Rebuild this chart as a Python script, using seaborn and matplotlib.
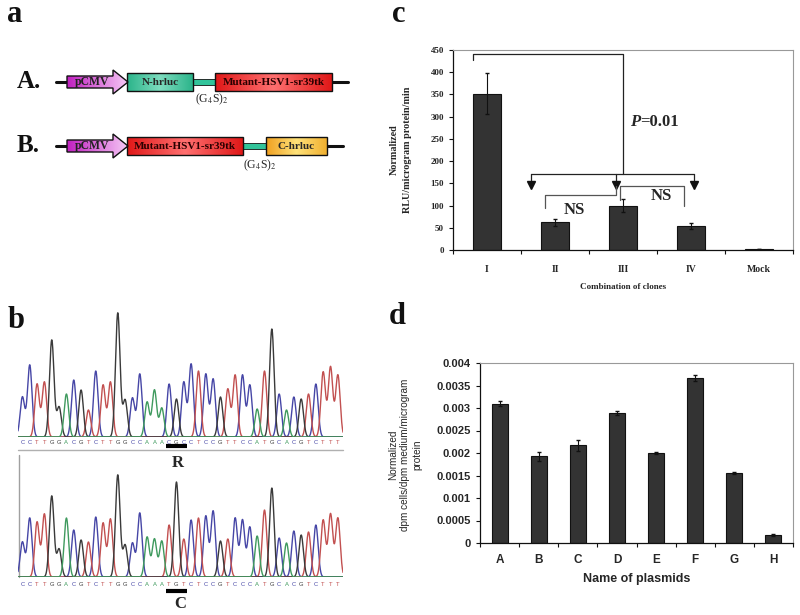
import numpy as np
import pandas as pd
import matplotlib
matplotlib.use("Agg")
import matplotlib.pyplot as plt
from matplotlib.patches import Rectangle, Polygon
from matplotlib.colors import LinearSegmentedColormap
import seaborn as sns

# panel c: luciferase activity per clone combination
CLONES = ["I", "II", "III", "IV", "Mock"]
RLU = [352, 62, 100, 54, 2]
RLU_ERR = [47, 7, 14, 7, 0]

# panel d: uptake per plasmid
PLASMIDS = ["A", "B", "C", "D", "E", "F", "G", "H"]
DPM = [0.0031, 0.00193, 0.00217, 0.00289, 0.00200, 0.00366, 0.00155, 0.00018]
DPM_ERR = [0.00005, 0.0001, 0.00012, 0.00004, 0.00002, 0.00007, 0.00002, 0.00002]
D_TICKS = [0, 0.0005, 0.001, 0.0015, 0.002, 0.0025, 0.003, 0.0035, 0.004]

# panel b: sequencing traces (base calls and peak heights)
SEQ_R = "CCTTGGACGTCTTGGCCAAACGCCTCCGTTCCATGCACGTCTTT"
SEQ_C = "CCTTGGACGTCTTGGCCAAATGTCTCCGTCCCATGCACGTCTTT"
PEAKS_R = [40, 72, 53, 55, 97, 30, 43, 57, 47, 27, 66, 52, 55, 124, 37, 39, 63, 35, 47, 29,
           53, 38, 55, 73, 66, 63, 58, 40, 48, 62, 62, 52, 28, 66, 108, 43, 27, 40, 38, 43,
           53, 65, 70, 62]
PEAKS_C = [35, 59, 55, 63, 81, 28, 59, 47, 37, 35, 60, 54, 58, 102, 32, 34, 64, 40, 38, 36,
           52, 95, 38, 57, 59, 61, 66, 36, 38, 59, 57, 50, 41, 67, 89, 39, 34, 46, 42, 45,
           52, 57, 63, 59]
BASE_COLORS = {"C": "#4646a6", "T": "#c25050", "G": "#3a3a3a", "A": "#3f9a5e"}

SERIF = "Liberation Serif"
SANS = "Liberation Sans"

sns.set_theme(style="white")
plt.rcParams["font.family"] = [SERIF, "DejaVu Serif"]
plt.rcParams["mathtext.fontset"] = "stix"

fig = plt.figure(figsize=(8, 6.15), dpi=100)

# overlay in pixel coordinates for the drawn construct and labels
ov = fig.add_axes([0, 0, 1, 1])
ov.set_xlim(0, 800)
ov.set_ylim(615, 0)
ov.set_autoscale_on(False)
ov.axis("off")
ov.patch.set_visible(False)


def grad_patch(patch, colors, extent):
    ov.add_patch(patch)
    cmap = LinearSegmentedColormap.from_list("g", colors)
    img = ov.imshow(np.linspace(0, 1, 128)[None, :], cmap=cmap, aspect="auto",
                    extent=extent, zorder=2)
    img.set_clip_path(patch)
    patch.set_facecolor("none")
    patch.set_edgecolor("#111111")
    patch.set_linewidth(1.0)
    patch.set_zorder(3)


def arrow_shape(y):
    return Polygon([(67, y - 6), (113, y - 6), (113, y - 12), (128, y), (113, y + 12),
                    (113, y + 6), (67, y + 6)], closed=True)


def box(x0, x1, y, colors):
    grad_patch(Rectangle((x0, y - 9), x1 - x0, 18), colors, (x0, x1, y + 9, y - 9))


# --- panel a ---
for yy, label in [(82, "A."), (146, "B.")]:
    ov.text(17, yy, label, fontsize=18, fontweight="bold", va="center", ha="left", color="#111111")

ov.plot([56, 348], [82, 82], color="#111111", lw=2.2, zorder=1)
grad_patch(arrow_shape(82), ["#c020c0", "#f6c8f6"], (67, 128, 94, 70))
ov.text(92, 82.5, "pCMV", fontsize=8.5, fontweight="bold", ha="center", va="center", color="#222222", zorder=4)
box(127, 193, 82, ["#2bb48a", "#7edcbf", "#2bb48a"])
ov.add_patch(Rectangle((193, 79), 22, 5.5, facecolor="#32c49a", edgecolor="#111111", lw=0.6, zorder=2))
box(215, 332, 82, ["#e01818", "#ff7070", "#e01818"])
ov.text(160, 82.5, "N-hrluc", fontsize=8, fontweight="bold", ha="center", va="center", zorder=4)
ov.text(273.5, 82.5, "Mutant-HSV1-sr39tk", fontsize=8, fontweight="bold", ha="center", va="center",
        color="#2a0000", zorder=4)
ov.text(212, 99, r"(G$_4$S)$_2$", fontsize=8.5, ha="center", va="center")

ov.plot([56, 343], [146, 146], color="#111111", lw=2.2, zorder=1)
grad_patch(arrow_shape(146), ["#c020c0", "#f6c8f6"], (67, 128, 158, 134))
ov.text(92, 146.5, "pCMV", fontsize=8.5, fontweight="bold", ha="center", va="center", color="#222222", zorder=4)
box(127, 243, 146, ["#e01818", "#ff7070", "#e01818"])
ov.add_patch(Rectangle((243, 143), 23, 5.5, facecolor="#32c49a", edgecolor="#111111", lw=0.6, zorder=2))
box(266, 327, 146, ["#f0a020", "#ffe27a", "#f0b030"])
ov.text(185, 146.5, "Mutant-HSV1-sr39tk", fontsize=8, fontweight="bold", ha="center", va="center",
        color="#2a0000", zorder=4)
ov.text(296, 146.5, "C-hrluc", fontsize=8, fontweight="bold", ha="center", va="center", zorder=4)
ov.text(260, 165, r"(G$_4$S)$_2$", fontsize=8.5, ha="center", va="center")

# panel letters
for x, y, s in [(15, 15, "a"), (16, 321, "b"), (399, 15, "c"), (397, 317, "d")]:
    ov.text(x, y, s, fontsize=22, fontweight="bold", ha="center", va="center", color="#111111")


# --- panel b ---
def draw_trace(ax, seq, peaks, letter_y, bar_y):
    xs = np.linspace(-0.6, 43.7, 3000)
    for base, col in BASE_COLORS.items():
        ys = np.zeros_like(xs)
        for i, (b, h) in enumerate(zip(seq, peaks)):
            if b == base:
                ys += h * np.exp(-0.5 * ((xs - i) / 0.31) ** 2)
        ax.plot(xs, ys, color=col, lw=1.0)
    for i, b in enumerate(seq):
        ax.text(i, letter_y, b, fontsize=4.2, ha="center", va="center", color=BASE_COLORS[b],
                family=SANS, clip_on=False)
    ax.plot([19.6, 22.4], [bar_y, bar_y], color="black", lw=3, clip_on=False, solid_capstyle="butt")
    ax.set_xlim(-0.6, 43.7)
    ax.set_ylim(0, 137)
    ax.axis("off")


axb1 = fig.add_axes([18 / 800, 1 - 437 / 615, 325 / 800, 137 / 615])
draw_trace(axb1, SEQ_R, PEAKS_R, -5, -9)
axb2 = fig.add_axes([18 / 800, 1 - 577 / 615, 325 / 800, 137 / 615])
draw_trace(axb2, SEQ_C, PEAKS_C, -8, -14)
ov.plot([18, 343], [449.5, 449.5], color="#b0b0b0", lw=1)
ov.plot([19, 19], [455, 577], color="#a0a0a0", lw=1)
ov.text(178, 463, "R", fontsize=12, fontweight="bold", ha="center", va="center")
ov.text(180, 604, "C", fontsize=12, fontweight="bold", ha="center", va="center")


def excel_axes(ax, n, color_border="#999999"):
    for s in ["top", "right"]:
        ax.spines[s].set_color(color_border)
        ax.spines[s].set_linewidth(0.8)
    for s in ["left", "bottom"]:
        ax.spines[s].set_color("#111111")
        ax.spines[s].set_linewidth(0.9)
    ax.set_xlim(-0.5, n - 0.5)
    ax.set_xticks(np.arange(n + 1) - 0.5)
    ax.set_xticklabels([])
    ax.tick_params(axis="x", which="major", direction="out", length=3, width=0.8, color="#111111", bottom=True)
    ax.tick_params(axis="y", which="major", direction="out", length=3, width=0.8, color="#111111", left=True)


# --- panel c ---
df_c = pd.DataFrame({"clone": CLONES, "rlu": RLU})
axc = fig.add_axes([453 / 800, 1 - 250 / 615, 340 / 800, 200 / 615])
sns.barplot(data=df_c, x="clone", y="rlu", color="#333333", saturation=1, edgecolor="#111111",
            linewidth=0.8, width=0.4, errorbar=None, ax=axc)
axc.errorbar(range(len(CLONES)), RLU, yerr=RLU_ERR, fmt="none", ecolor="#111111", elinewidth=0.8, capsize=1.5)
excel_axes(axc, len(CLONES))
axc.set_ylim(0, 450)
axc.set_yticks(range(0, 451, 50))
axc.set_yticklabels([str(v) for v in range(0, 451, 50)], fontsize=6.5, fontweight="bold")
axc.set_xticks(range(len(CLONES)), minor=True)
axc.set_xticklabels(CLONES, minor=True, fontsize=7, fontweight="bold")
axc.tick_params(axis="x", which="minor", length=0, pad=11)
axc.set_xlabel("Combination of clones", fontsize=6.5, fontweight="bold", labelpad=6)
axc.set_ylabel("")
fig.text(401 / 800, 1 - 150 / 615, "Normalized\nRLU/microgram protein/min", rotation=90, ha="center",
         va="center", fontsize=7.3, fontweight="bold", linespacing=1.6, multialignment="center")

lk = dict(color="#222222", lw=0.9)
axc.plot([-0.2, -0.2, 2.0, 2.0], [428, 440, 440, 172], **lk)
axc.plot([0.65, 3.05], [172, 172], **lk)
for xa in [0.65, 1.89, 3.05]:
    axc.plot([xa, xa], [172, 152], **lk)
    axc.plot(xa, 146, marker="v", markersize=6, color="#111111")
axc.plot([0.85, 0.85, 1.89, 1.89], [94, 124, 124, 143], color="#555555", lw=0.9)
axc.plot([1.95, 1.95, 2.89, 2.89], [112, 143, 143, 100], color="#555555", lw=0.9)
axc.text(1.29, 90, "NS", fontsize=12, fontweight="bold", ha="center", va="center")
axc.text(2.56, 121, "NS", fontsize=12, fontweight="bold", ha="center", va="center")
axc.text(2.1, 289, "P", fontsize=12, fontweight="bold", style="italic", ha="left", va="center")
axc.text(2.25, 289, "=0.01", fontsize=12, fontweight="bold", ha="left", va="center")

# --- panel d ---
df_d = pd.DataFrame({"plasmid": PLASMIDS, "dpm": DPM})
axd = fig.add_axes([480 / 800, 1 - 543 / 615, 313 / 800, 180 / 615])
sns.barplot(data=df_d, x="plasmid", y="dpm", color="#333333", saturation=1, edgecolor="#111111",
            linewidth=0.8, width=0.41, errorbar=None, ax=axd)
axd.errorbar(range(len(PLASMIDS)), DPM, yerr=DPM_ERR, fmt="none", ecolor="#111111", elinewidth=0.8, capsize=1.5)
excel_axes(axd, len(PLASMIDS))
axd.set_ylim(0, 0.004)
axd.set_yticks(D_TICKS)
axd.set_yticklabels([f"{v:g}" for v in D_TICKS], fontsize=8, fontweight="bold", family=SANS)
axd.set_xticks(range(len(PLASMIDS)), minor=True)
axd.set_xticklabels(PLASMIDS, minor=True, fontsize=8.5, fontweight="bold", family=SANS)
axd.tick_params(axis="x", which="minor", length=0, pad=8)
axd.set_xlabel("Name of plasmids", fontsize=9, fontweight="bold", family=SANS, labelpad=5)
axd.set_ylabel("")
fig.text(405 / 800, 1 - 455 / 615, "Normalized\ndpm cells/dpm medium/microgram\nprotein", rotation=90,
         ha="center", va="center", fontsize=7.2, family=SANS, linespacing=1.25, multialignment="center")

fig.savefig("out.png", dpi=100, facecolor="white")
